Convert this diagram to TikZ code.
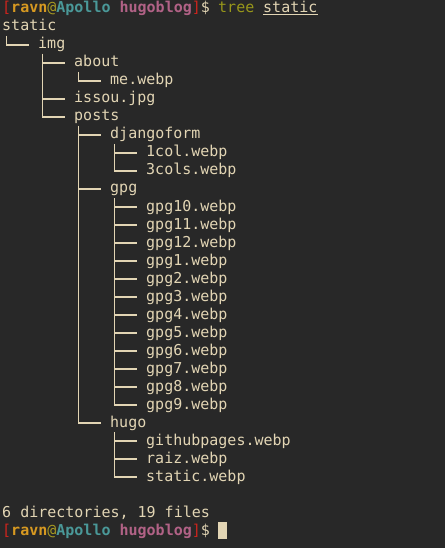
\documentclass[tikz,border=0pt]{standalone}
\usepackage{fontspec}
\setmainfont{DejaVu Sans Mono}
\definecolor{termbg}{HTML}{282828}
\definecolor{termfg}{HTML}{E2D5B4}
\definecolor{pred}{HTML}{CC241D}
\definecolor{pyel}{HTML}{D79921}
\definecolor{pat}{HTML}{A89A22}
\definecolor{pteal}{HTML}{4A9898}
\definecolor{ppink}{HTML}{B16286}
\definecolor{pcmd}{HTML}{98971A}
\newcommand{\promptline}{\textcolor{pred}{[}\textbf{\textcolor{pyel}{ravn}}\textcolor{pat}{@}\textbf{\textcolor{pteal}{Apollo}} \textbf{\textcolor{ppink}{hugoblog}}\textcolor{pred}{]}\$}
\newcommand{\branch}[2]{\draw[treeline] ([xshift=4.5pt,yshift=-5pt]#1.base west) |- ([xshift=-9pt,yshift=4pt]#2.base west);}
\tikzset{
  entry/.style={anchor=base west,inner sep=0pt,text=termfg},
  treeline/.style={termfg,line width=1.1pt}
}
\begin{document}
\begin{tikzpicture}[x=9pt,y=-18pt,font=\fontsize{15}{18}\selectfont]

\fill[termbg] (0pt,0pt) rectangle (445pt,-548pt);
\begin{scope}[xshift=2pt,yshift=-13pt]
\node[entry] (prompt) at (0,0) {\promptline};
\node[entry,text=pcmd] (cmd) at (24,0) {tree};
\node[entry] (arg) at (29,0) {static};
\draw[termfg,line width=1pt] ([yshift=-2pt]arg.base west) -- ([yshift=-2pt]arg.base east);
\node[entry] (static) at (0,1) {static};
\node[entry] (img) at (4,2) {img};
\node[entry] (about) at (8,3) {about};
\node[entry] (mewebp) at (12,4) {me.webp};
\node[entry] (issou) at (8,5) {issou.jpg};
\node[entry] (posts) at (8,6) {posts};
\node[entry] (djangoform) at (12,7) {djangoform};
\node[entry] (onecol) at (16,8) {1col.webp};
\node[entry] (threecols) at (16,9) {3cols.webp};
\node[entry] (gpg) at (12,10) {gpg};
\node[entry] (hugo) at (12,23) {hugo};
\node[entry] (githubpages) at (16,24) {githubpages.webp};
\node[entry] (raiz) at (16,25) {raiz.webp};
\node[entry] (staticwebp) at (16,26) {static.webp};
\node[entry] (summary) at (0,28) {6 directories, 19 files};
\node[entry] (prompt2) at (0,29) {\promptline};
\branch{static}{img}
\branch{img}{about}
\branch{about}{mewebp}
\branch{img}{issou}
\branch{img}{posts}
\branch{posts}{djangoform}
\branch{djangoform}{onecol}
\branch{djangoform}{threecols}
\branch{posts}{gpg}
\foreach \f [count=\i from 11] in {10,11,12,1,2,3,4,5,6,7,8,9} {
  \node[entry] (gpg\f) at (16,\i) {gpg\f.webp};
  \branch{gpg}{gpg\f}
}
\branch{posts}{hugo}
\branch{hugo}{githubpages}
\branch{hugo}{raiz}
\branch{hugo}{staticwebp}
\end{scope}
\fill[termfg] (218pt,-522pt) rectangle (227pt,-539pt);
\end{tikzpicture}
\end{document}
